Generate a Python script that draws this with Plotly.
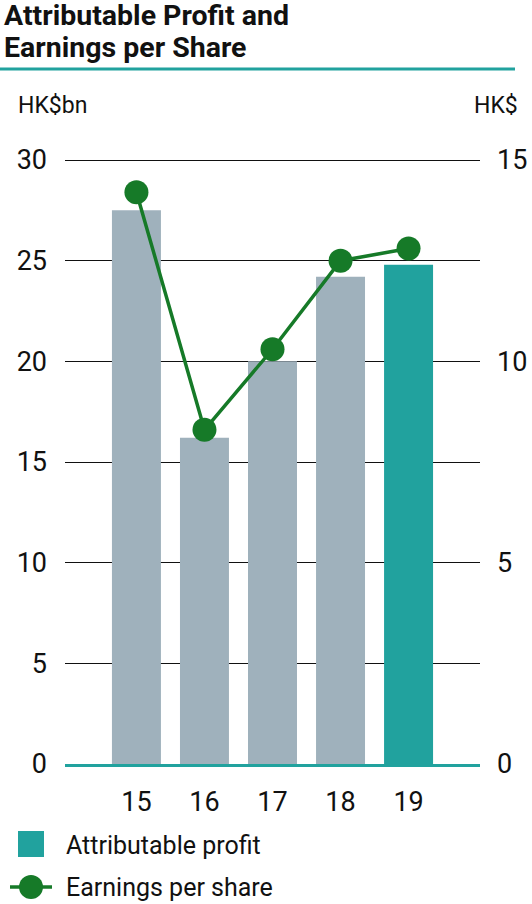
import plotly.graph_objects as go

years = ["15", "16", "17", "18", "19"]
profit = [27.5, 16.2, 20.0, 24.2, 24.8]
eps = [14.2, 8.3, 10.3, 12.5, 12.8]
left_ticks = [0, 5, 10, 15, 20, 25, 30]
right_ticks = [0, 5, 10, 15]

GREY = "#9fb1bc"
TEAL = "#21a29e"
GREEN = "#167a28"
FONT = "Roboto"

bar_colors = [GREY] * (len(years) - 1) + [TEAL]

fig = go.Figure()
fig.add_trace(go.Bar(x=years, y=profit, marker=dict(color=bar_colors, line=dict(width=0)),
                     width=0.72, name="Attributable profit", showlegend=False))
fig.add_trace(go.Scatter(x=years, y=eps, yaxis="y2", mode="lines+markers",
                         line=dict(color=GREEN, width=3.5),
                         marker=dict(color=GREEN, size=24),
                         name="Earnings per share", showlegend=False))

W, H = 532, 904
L, R, T, B = 65, 52, 159, 140
pw, ph = W - L - R, H - T - B

def px(x):
    return (x - L) / pw

def py(y):
    return (H - B - y) / ph

TICKSIZE = 27

fig.update_layout(
    width=W, height=H,
    margin=dict(l=L, r=R, t=T, b=B, autoexpand=False),
    paper_bgcolor="white", plot_bgcolor="white",
    font=dict(family=FONT, color="#111111"),
    xaxis=dict(type="category", range=[-1.05, 5.05], showgrid=False, automargin=False,
               showline=True, linecolor=TEAL, linewidth=3, ticks="",
               tickfont=dict(size=TICKSIZE, family=FONT), ticklabelstandoff=12),
    yaxis=dict(range=[0, 30.05], tickvals=left_ticks, showgrid=True, automargin=False,
               gridcolor="#111111", gridwidth=1, zeroline=False,
               tickfont=dict(size=TICKSIZE, family=FONT), ticklabelstandoff=17),
    yaxis2=dict(range=[0, 15.025], tickvals=right_ticks, overlaying="y", side="right",
                showgrid=False, zeroline=False, automargin=False,
                tickfont=dict(size=TICKSIZE, family=FONT), ticklabelstandoff=16),
    showlegend=False,
    bargap=0.28,
)

shapes = [
    dict(type="line", xref="paper", yref="paper", x0=px(0), x1=px(515), y0=py(69), y1=py(69),
         line=dict(color=TEAL, width=3)),
    dict(type="rect", xref="paper", yref="paper", x0=px(18), x1=px(44), y0=py(857), y1=py(831),
         fillcolor=TEAL, line=dict(width=0)),
    dict(type="line", xref="paper", yref="paper", x0=px(10), x1=px(52), y0=py(887), y1=py(887),
         line=dict(color=GREEN, width=3.5)),
    dict(type="circle", xref="paper", yref="paper", x0=px(19), x1=px(43), y0=py(899), y1=py(875),
         fillcolor=GREEN, line=dict(width=0)),
]
fig.update_layout(shapes=shapes)

ann = [
    dict(text="<b>Attributable Profit and</b>", x=px(2), y=py(15), size=28.5),
    dict(text="<b>Earnings per Share</b>", x=px(2), y=py(47), size=28.5),
    dict(text="HK$bn", x=px(16), y=py(106), size=23),
    dict(text="HK$", x=px(520), y=py(106), size=23, xanchor="right"),
    dict(text="Attributable profit", x=px(64), y=py(845), size=25),
    dict(text="Earnings per share", x=px(64), y=py(887), size=25),
]
for a in ann:
    size = a.pop("size")
    a.setdefault("xanchor", "left")
    a.update(xref="paper", yref="paper", yanchor="middle", showarrow=False,
             font=dict(size=size, family=FONT, color="#111111"))
fig.update_layout(annotations=ann)

fig.write_html("out.html", config={"displayModeBar": False},
               post_script="document.body.style.margin='0';document.body.style.overflow='hidden';")
